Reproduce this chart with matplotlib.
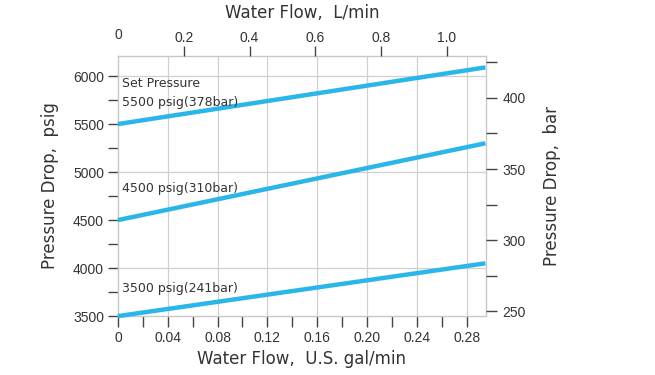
import matplotlib
matplotlib.use("Agg")
import matplotlib.pyplot as plt
import numpy as np

# Data
flow_gpm = [0.0, 0.295]
set_labels = ["5500 psig(378bar)", "4500 psig(310bar)", "3500 psig(241bar)"]
line_5500 = [5500, 6090]
line_4500 = [4500, 5300]
line_3500 = [3500, 4050]
psi_ticks = [3500, 4000, 4500, 5000, 5500, 6000]
bar_ticks = [250, 300, 350, 400]
gpm_ticks = [0, 0.04, 0.08, 0.12, 0.16, 0.20, 0.24, 0.28]
gpm_labels = ["0", "0.04", "0.08", "0.12", "0.16", "0.20", "0.24", "0.28"]
lpm_ticks = [0.2, 0.4, 0.6, 0.8, 1.0]
lpm_labels = ["0.2", "0.4", "0.6", "0.8", "1.0"]

LINE_C = "#2bb6e9"
TXT = "#333333"
GRID = "#d0d0d0"

fig = plt.figure(figsize=(6.55, 3.75), dpi=100)
ax = fig.add_axes([0.180, 0.157, 0.562, 0.694])

xmax = 0.2955
ax.set_xlim(0, xmax)
ax.set_ylim(3500, 6210)

for ys in (line_5500, line_4500, line_3500):
    ax.plot(flow_gpm, ys, color=LINE_C, lw=3.2, solid_capstyle="butt", zorder=3, clip_on=False)

# grid
for gx in gpm_ticks[1:]:
    ax.axvline(gx, color=GRID, lw=0.9, zorder=1)
for gy in [4000, 5000, 6000]:
    ax.axhline(gy, color=GRID, lw=0.9, zorder=1)

for s in ax.spines.values():
    s.set_color("#c8c8c8")
    s.set_linewidth(1.0)

tick_font = dict(family="Liberation Sans", size=10, color=TXT)
lab_font = dict(family="DejaVu Sans", size=12, color=TXT)

# left axis
ax.set_yticks(psi_ticks)
ax.set_yticklabels([str(v) for v in psi_ticks], **tick_font)
ax.set_yticks([3750, 4250, 4750, 5250, 5750], minor=True)
ax.tick_params(axis="y", which="both", direction="out", length=7, width=1, color="#444444", pad=3)

# bottom axis
ax.set_xticks(gpm_ticks)
ax.set_xticklabels(gpm_labels, **tick_font)
ax.set_xticks([0.02, 0.06, 0.10, 0.14, 0.18, 0.22, 0.26], minor=True)
ax.tick_params(axis="x", which="both", direction="out", length=8, width=1, color="#444444", pad=3)

ax.set_xlabel("Water Flow,  U.S. gal/min", labelpad=3, **lab_font)
ax.set_ylabel("Pressure Drop,  psig", labelpad=10, **lab_font)

# right axis (bar)
axr = ax.twinx()
axr.set_ylim(246.5, 429.6)
axr.set_yticks(bar_ticks)
axr.set_yticklabels([str(v) for v in bar_ticks], **tick_font)
axr.set_yticks([275, 325, 375, 425], minor=True)
axr.tick_params(axis="y", which="both", direction="out", length=8, width=1, color="#444444", pad=4)
axr.set_ylabel("Pressure Drop,  bar", labelpad=12, **lab_font)
for s in axr.spines.values():
    s.set_visible(False)

# top axis (L/min)
axt = ax.twiny()
axt.set_xlim(0, xmax * 3.785)
axt.set_xticks(lpm_ticks)
axt.set_xticklabels(lpm_labels, **tick_font)
axt.tick_params(axis="x", which="both", direction="out", length=7, width=1, color="#444444", pad=1)
axt.set_xlabel("Water Flow,  L/min", labelpad=9, **lab_font)
for s in axt.spines.values():
    s.set_visible(False)
axt.text(0, 1.055, "0", transform=axt.transAxes, ha="center", va="bottom", **tick_font)

# annotations
txt_font = dict(family="DejaVu Sans", size=9, color=TXT)
ax.text(0.003, 5920, "Set Pressure", ha="left", va="center", **txt_font)
ax.text(0.003, 5720, set_labels[0], ha="left", va="center", **txt_font)
ax.text(0.003, 4830, set_labels[1], ha="left", va="center", **txt_font)
ax.text(0.003, 3790, set_labels[2], ha="left", va="center", **txt_font)

fig.savefig("out.png", dpi=100)
